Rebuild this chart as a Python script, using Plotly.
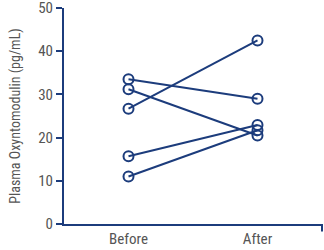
import plotly.graph_objects as go

categories = ["Before", "After"]
before = [33.5, 31.2, 26.7, 15.7, 11.0]
after = [29.0, 20.5, 42.5, 22.9, 21.7]
y_ticks = [0, 10, 20, 30, 40, 50]

navy = "#1c3c7c"
gray = "#555555"
font_family = "Liberation Sans Narrow, Arial Narrow, Roboto Condensed, sans-serif"

fig = go.Figure()
for b, a in zip(before, after):
    fig.add_trace(go.Scatter(
        x=[0, 1], y=[b, a], mode="lines+markers",
        line=dict(color=navy, width=2),
        marker=dict(symbol="circle-open", size=10, color=navy, line=dict(width=2, color=navy)),
        showlegend=False, hoverinfo="skip", cliponaxis=False,
    ))

fig.update_layout(
    width=324, height=250,
    margin=dict(l=64, r=2, t=8, b=26, autoexpand=False),
    plot_bgcolor="white", paper_bgcolor="white",
    font=dict(family=font_family, color=gray, size=15),
    xaxis=dict(
        range=[-0.5, 1.5], tickvals=[0, 1], ticktext=categories,
        showgrid=False, zeroline=False, showline=True, linecolor=navy, linewidth=2,
        ticks="", tickfont=dict(size=15, color=gray), automargin=False,
        ticklabeloverflow="allow",
    ),
    yaxis=dict(
        range=[0, 50], tickvals=y_ticks, showgrid=False, zeroline=False,
        showline=True, linecolor=navy, linewidth=2,
        ticks="outside", ticklen=6, tickwidth=2, tickcolor=navy,
        tickfont=dict(size=15, color=gray), automargin=False,
        ticklabeloverflow="allow",
        title=dict(text="Plasma Oxyntomodulin (pg/mL)", font=dict(size=14, color=gray), standoff=14),
    ),
    shapes=[dict(type="line", xref="paper", yref="paper", x0=1, x1=1, y0=0, y1=-0.035,
                 line=dict(color=navy, width=2))],
)

fig.write_html("out.html")
